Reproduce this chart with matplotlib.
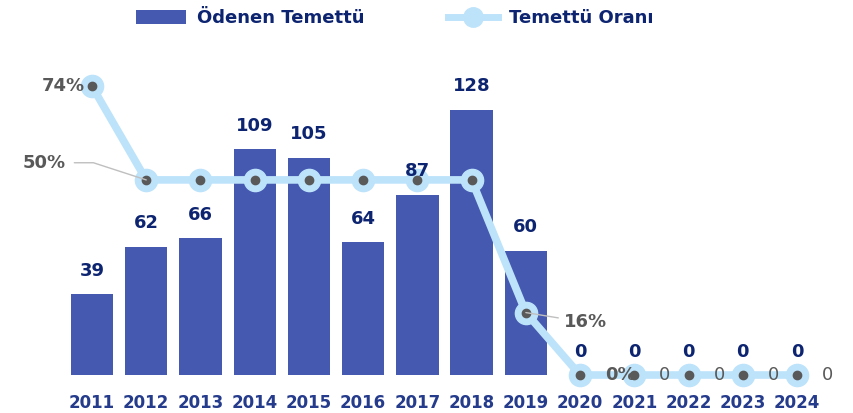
import matplotlib
matplotlib.use('Agg')
import matplotlib.pyplot as plt
from matplotlib.lines import Line2D
from matplotlib.patches import Patch

years = ['2011', '2012', '2013', '2014', '2015', '2016', '2017',
         '2018', '2019', '2020', '2021', '2022', '2023', '2024']
dividends = [39, 62, 66, 109, 105, 64, 87, 128, 60, 0, 0, 0, 0, 0]
payout = [74, 50, 50, 50, 50, 50, 50, 50, 16, 0, 0, 0, 0, 0]
payout_labels = ['74%', '50%', '', '', '', '', '', '', '16%', '0%', '0', '0', '0', '0']

bar_color = '#4559B0'
line_color = '#BDE3FB'
dot_color = '#595959'
navy = '#0D2470'
tick_color = '#253B8C'

plt.rcParams['font.family'] = ['DejaVu Sans']

fig = plt.figure(figsize=(8.54, 4.13), dpi=100)
ax = fig.add_axes([0.076, 0.092, 0.889, 0.752])
x = list(range(len(years)))

ax.bar(x, dividends, width=0.78, color=bar_color, zorder=1)
ax.set_xlim(-0.5, 13.5)
ax.set_ylim(0, 150)
ax.set_xticks(x)
ax.set_xticklabels(years, fontsize=12, fontweight='bold', color=tick_color)
ax.tick_params(axis='x', length=0, pad=14)
ax.set_yticks([])
for s in ax.spines.values():
    s.set_visible(False)

ax2 = ax.twinx()
ax2.set_ylim(0, 79.6)
ax2.set_yticks([])
for s in ax2.spines.values():
    s.set_visible(False)
ax2.plot(x, payout, color=line_color, lw=5.5, marker='o', markersize=16,
         markerfacecolor=line_color, markeredgecolor=line_color, zorder=3,
         clip_on=False)
ax2.plot(x, payout, ls='none', marker='o', markersize=6, color=dot_color,
         zorder=4, clip_on=False)

# bar value labels drawn on top of the line
for i, v in enumerate(dividends):
    ax2.text(i, v + 7, str(v), transform=ax.transData, ha='center', va='bottom',
             fontsize=13, fontweight='bold', color=navy, zorder=6)

lab_kw = dict(fontsize=13, fontweight='bold', color=dot_color, zorder=5)
ax2.text(x[0] - 0.13, payout[0], payout_labels[0], ha='right', va='center', **lab_kw)
ax2.annotate(payout_labels[1], xy=(x[1], payout[1]), xytext=(x[1] - 1.48, payout[1] + 4.4),
             ha='right', va='center', annotation_clip=False,
             arrowprops=dict(arrowstyle='-', color='#BFBFBF', lw=1,
                             shrinkA=4, shrinkB=0,
                             connectionstyle='angle,angleA=0,angleB=162,rad=0'),
             **lab_kw)
ax2.annotate(payout_labels[8], xy=(x[8], payout[8]), xytext=(x[8] + 0.7, payout[8] - 2.5),
             ha='left', va='center', annotation_clip=False,
             arrowprops=dict(arrowstyle='-', color='#BFBFBF', lw=1, shrinkA=2, shrinkB=0),
             **lab_kw)
for i in range(9, 14):
    ax2.text(x[i] + 0.46, payout[i], payout_labels[i], ha='left', va='center',
             fontsize=13, color=dot_color, zorder=5,
             fontweight='bold' if i == 9 else 'normal')

handles = [Patch(facecolor=bar_color, edgecolor='none'),
           Line2D([0], [0], color=line_color, lw=5, marker='o', markersize=14,
                  markerfacecolor=line_color, markeredgecolor=line_color)]
leg = fig.legend(handles, ['Ödenen Temettü', 'Temettü Oranı'], loc='center left',
                 bbox_to_anchor=(0.140, 0.956), ncol=2, frameon=False,
                 handlelength=2.8, handleheight=0.78, handletextpad=0.6,
                 columnspacing=4.6, prop={'size': 13, 'weight': 'bold'})
for t in leg.get_texts():
    t.set_color(navy)

plt.savefig('out.png', dpi=100)
